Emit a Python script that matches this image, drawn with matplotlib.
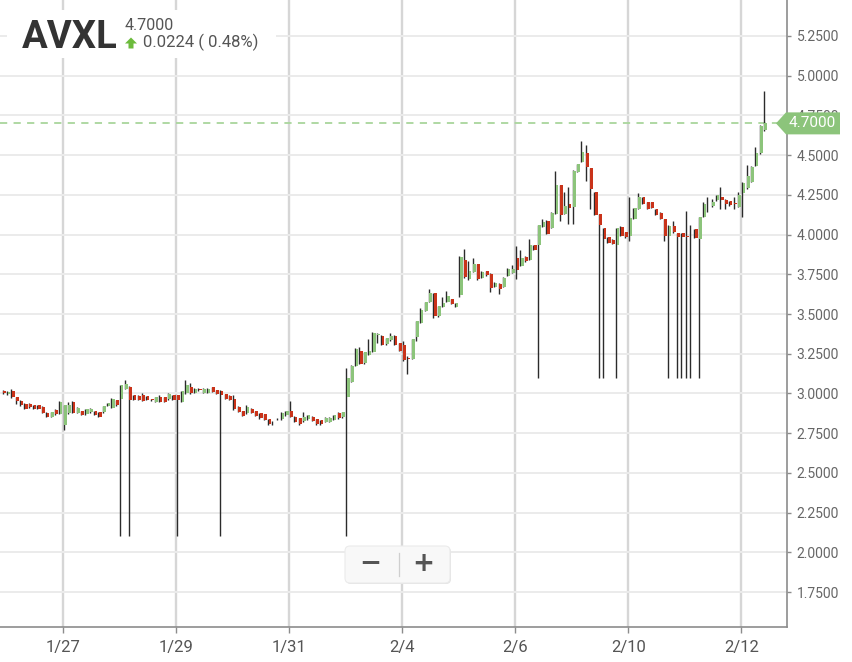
import matplotlib
matplotlib.use('Agg')
import matplotlib.pyplot as plt
from matplotlib.patches import Polygon, FancyBboxPatch, Rectangle
from matplotlib.transforms import IdentityTransform
from matplotlib.lines import Line2D
import numpy as np

plt.rcParams['font.family'] = ['Roboto', 'DejaVu Sans']

# ---------------- data (30-minute candles, 1/24 .. 2/12) ----------------
opens = [
    # 1/24
    3.015, 2.995, 3.015, 2.975, 2.955, 2.935, 2.935, 2.926, 2.926, 2.916, 2.878, 2.853, 2.895, 2.870,
    # 1/27
    2.800, 2.874, 2.943, 2.878, 2.890, 2.868, 2.880, 2.890, 2.880, 2.880, 2.920, 2.910, 2.958,
    # 1/28
    2.968, 3.027, 3.042, 2.990, 2.985, 2.990, 2.983, 2.962, 2.948, 2.975, 2.975, 2.962, 2.990,
    # 1/29
    2.990, 2.948, 3.000, 3.042, 3.004, 3.030, 3.004, 3.004, 3.038, 3.020, 3.017, 2.996, 2.983,
    # 1/30
    2.968, 2.916, 2.890, 2.874, 2.905, 2.890, 2.874, 2.870, 2.836, 2.815, 2.838, 2.836, 2.863,
    # 1/31
    2.890, 2.853, 2.843, 2.825, 2.836, 2.853, 2.836, 2.832, 2.820, 2.820, 2.832, 2.874, 2.853,
    # 2/3
    2.975, 3.075, 3.175, 3.270, 3.190, 3.244, 3.260, 3.370, 3.364, 3.310, 3.334, 3.364, 3.317,
    # 2/4
    3.307, 3.220, 3.217, 3.354, 3.444, 3.520, 3.575, 3.630, 3.486, 3.545, 3.577, 3.592, 3.545,
    # 2/5
    3.617, 3.840, 3.718, 3.765, 3.813, 3.729, 3.770, 3.754, 3.672, 3.690, 3.670, 3.740, 3.760,
    # 2/6
    3.855, 3.805, 3.860, 3.843, 3.935, 3.937, 4.050, 4.088, 4.042, 4.130, 4.313, 4.130, 4.190,
    # 2/7
    4.172, 4.393, 4.456, 4.513, 4.418, 4.267, 4.130, 4.042, 3.983, 3.967, 3.937, 4.050, 4.015,
    # 2/10
    3.994, 4.099, 4.162, 4.235, 4.204, 4.204, 4.162, 4.137, 4.099, 3.988, 4.057, 4.010, 4.010,
    # 2/11
    3.990, 3.990, 4.032, 3.973, 4.110, 4.200, 4.177, 4.215, 4.235, 4.219, 4.210, 4.200, 4.176,
    # 2/12
    4.260, 4.292, 4.333, 4.432, 4.512, 4.660,
]
highs = [
    3.020, 3.015, 3.028, 2.978, 2.958, 2.938, 2.937, 2.928, 2.928, 2.918, 2.880, 2.884, 2.902, 2.955,
    2.930, 2.945, 2.954, 2.912, 2.892, 2.902, 2.907, 2.892, 2.882, 2.922, 2.942, 2.970, 2.960,
    3.055, 3.085, 3.045, 2.992, 2.987, 3.000, 2.985, 2.965, 2.977, 2.990, 2.977, 3.000, 2.992,
    2.992, 3.017, 3.085, 3.063, 3.032, 3.034, 3.032, 3.032, 3.040, 3.022, 3.020, 2.998, 2.990,
    2.990, 2.918, 2.892, 2.926, 2.907, 2.892, 2.876, 2.872, 2.838, 2.828, 2.845, 2.885, 2.892,
    2.954, 2.855, 2.845, 2.880, 2.865, 2.855, 2.838, 2.834, 2.850, 2.850, 2.865, 2.885, 2.886,
    3.160, 3.180, 3.285, 3.290, 3.262, 3.340, 3.385, 3.380, 3.366, 3.352, 3.380, 3.366, 3.319,
    3.330, 3.235, 3.345, 3.457, 3.540, 3.577, 3.655, 3.632, 3.552, 3.607, 3.645, 3.594, 3.572,
    3.862, 3.908, 3.834, 3.850, 3.815, 3.769, 3.772, 3.756, 3.699, 3.692, 3.731, 3.788, 3.807,
    3.930, 3.904, 3.862, 3.969, 3.937, 4.063, 4.099, 4.090, 4.139, 4.403, 4.315, 4.267, 4.300,
    4.405, 4.447, 4.592, 4.561, 4.420, 4.269, 4.132, 4.044, 3.985, 3.969, 4.044, 4.052, 4.017,
    4.235, 4.170, 4.263, 4.237, 4.206, 4.206, 4.164, 4.139, 4.101, 4.059, 4.088, 4.012, 4.012,
    4.147, 4.060, 4.034, 4.112, 4.204, 4.235, 4.225, 4.248, 4.300, 4.221, 4.212, 4.235, 4.267,
    4.330, 4.438, 4.430, 4.553, 4.690, 4.906,
]
lows = [
    2.995, 2.990, 2.970, 2.935, 2.920, 2.900, 2.910, 2.900, 2.900, 2.874, 2.853, 2.850, 2.866, 2.868,
    2.770, 2.872, 2.876, 2.876, 2.862, 2.866, 2.878, 2.862, 2.852, 2.878, 2.918, 2.908, 2.924,
    2.100, 3.025, 2.100, 2.956, 2.956, 2.952, 2.956, 2.952, 2.946, 2.946, 2.946, 2.960, 2.956,
    2.100, 2.946, 2.998, 2.998, 3.002, 3.016, 3.002, 3.002, 3.008, 2.994, 2.100, 2.966, 2.956,
    2.898, 2.882, 2.858, 2.872, 2.876, 2.858, 2.841, 2.830, 2.804, 2.800, 2.835, 2.834, 2.861,
    2.851, 2.818, 2.800, 2.823, 2.834, 2.826, 2.804, 2.804, 2.818, 2.818, 2.830, 2.841, 2.843,
    2.100, 3.073, 3.173, 3.185, 3.188, 3.242, 3.258, 3.320, 3.305, 3.308, 3.332, 3.305, 3.268,
    3.206, 3.125, 3.215, 3.330, 3.442, 3.518, 3.573, 3.476, 3.484, 3.543, 3.575, 3.562, 3.543,
    3.610, 3.728, 3.716, 3.763, 3.716, 3.727, 3.742, 3.638, 3.670, 3.628, 3.668, 3.738, 3.758,
    3.718, 3.800, 3.830, 3.841, 3.904, 3.100, 4.048, 4.002, 4.040, 4.128, 4.088, 4.128, 4.067,
    4.067, 4.391, 4.454, 4.340, 4.162, 4.124, 3.100, 3.100, 3.944, 3.938, 3.100, 3.992, 3.981,
    3.960, 4.097, 4.160, 4.191, 4.160, 4.166, 4.124, 4.097, 3.960, 3.100, 4.013, 3.100, 3.100,
    3.100, 3.100, 3.978, 3.100, 4.108, 4.141, 4.175, 4.213, 4.162, 4.162, 4.181, 4.162, 4.174,
    4.113, 4.290, 4.331, 4.430, 4.510, 4.652,
]
closes = [
    3.000, 3.012, 2.975, 2.955, 2.925, 2.900, 2.912, 2.900, 2.900, 2.874, 2.853, 2.882, 2.868, 2.947,
    2.926, 2.926, 2.878, 2.910, 2.863, 2.900, 2.905, 2.863, 2.853, 2.920, 2.940, 2.968, 2.926,
    3.052, 3.060, 2.958, 2.958, 2.958, 2.954, 2.958, 2.958, 2.975, 2.948, 2.948, 2.994, 2.958,
    2.958, 3.015, 3.052, 3.000, 3.030, 3.020, 3.030, 3.030, 3.010, 2.996, 2.990, 2.968, 2.958,
    2.900, 2.884, 2.860, 2.912, 2.878, 2.860, 2.843, 2.832, 2.806, 2.812, 2.842, 2.874, 2.890,
    2.853, 2.820, 2.810, 2.853, 2.863, 2.828, 2.806, 2.806, 2.848, 2.848, 2.863, 2.843, 2.884,
    3.100, 3.175, 3.280, 3.187, 3.260, 3.270, 3.380, 3.375, 3.307, 3.350, 3.364, 3.307, 3.270,
    3.208, 3.215, 3.343, 3.455, 3.528, 3.575, 3.630, 3.486, 3.550, 3.570, 3.613, 3.564, 3.570,
    3.860, 3.730, 3.770, 3.813, 3.718, 3.767, 3.744, 3.666, 3.697, 3.660, 3.729, 3.786, 3.786,
    3.775, 3.850, 3.835, 3.935, 3.906, 4.061, 4.078, 4.004, 4.137, 4.313, 4.126, 4.180, 4.168,
    4.403, 4.445, 4.519, 4.425, 4.288, 4.126, 4.063, 3.973, 3.946, 3.940, 4.042, 3.994, 3.983,
    4.105, 4.168, 4.235, 4.193, 4.162, 4.168, 4.126, 4.099, 3.988, 4.057, 4.015, 3.983, 3.983,
    3.985, 3.992, 3.980, 4.110, 4.193, 4.196, 4.204, 4.246, 4.215, 4.193, 4.183, 4.195, 4.249,
    4.323, 4.369, 4.427, 4.512, 4.684, 4.700,
]

date_labels = ['1/27', '1/29', '1/31', '2/4', '2/6', '2/10', '2/12']
date_day_index = [1, 3, 5, 7, 9, 11, 13]          # trading-day index (1/24 = 0)
y_ticks = [1.75, 2.00, 2.25, 2.50, 2.75, 3.00, 3.25, 3.50, 3.75, 4.00, 4.25, 4.50, 4.75, 5.00, 5.25]
symbol = 'AVXL'
last_price = 4.7000
change = 0.0224
change_pct = 0.48

# ---------------- styling ----------------
GREEN = '#8cc47b'
RED = '#c9331a'
WICK = '#2b2b2b'
W, H = 853, 662
BARS_PER_DAY = 13
FIRST_DAY_BARS = 14

fig = plt.figure(figsize=(W / 100, H / 100), dpi=100)
ax = fig.add_axes([0, 35 / H, 787 / W, 627 / H])

o = np.array(opens); h = np.array(highs); l = np.array(lows); c = np.array(closes)
x = np.arange(len(o))
up = c >= o
colors = np.where(up, GREEN, RED)
bottoms = np.minimum(o, c)
heights = np.maximum(np.abs(c - o), 0.004)

ax.vlines(x - 0.3, l, h, color=WICK, lw=1.0, zorder=3)
ax.bar(x + 0.12, heights, bottom=bottoms, width=0.62, color=colors, linewidth=0, zorder=4)

ax.axhline(last_price, color='#a9d69c', lw=1.3, ls=(0, (4, 3.5)), zorder=2)

ax.set_xlim(-0.92, 179.99)
ax.set_ylim(1.5297, 5.4766)

ax.set_yticks(y_ticks)
ax.set_yticklabels([f'{v:.4f}' for v in y_ticks])
ax.yaxis.tick_right()
tick_pos = [FIRST_DAY_BARS + (d - 1) * BARS_PER_DAY - 0.5 for d in date_day_index]
ax.set_xticks(tick_pos)
ax.set_xticklabels(date_labels)

ax.grid(axis='y', color='#ebebeb', lw=1.4, zorder=0)
ax.grid(axis='x', color='#d6d6d6', lw=1.7, zorder=0)
ax.set_axisbelow(True)

for s in ['left', 'top']:
    ax.spines[s].set_visible(False)
for s in ['right', 'bottom']:
    ax.spines[s].set_color('#8c8c8c')
    ax.spines[s].set_linewidth(1.2)

ax.tick_params(axis='y', direction='out', length=3, width=1, color='#8c8c8c',
               labelsize=10, labelcolor='#666666', pad=4)
ax.tick_params(axis='x', direction='out', length=4.3, width=1, color='#8c8c8c',
               labelsize=12, labelcolor='#555555', pad=5)

fig.canvas.draw()

# ---------------- header box ----------------
def fy(py):
    return H - py

fig.add_artist(Rectangle((7, fy(58)), 269, 48, transform=IdentityTransform(),
                         facecolor='white', edgecolor='none', zorder=5))
fig.text(22 / W, 1 - 48 / H, symbol, ha='left', va='baseline', fontsize=27.5,
         fontweight='bold', color='#333333', zorder=6)
fig.text(125 / W, 1 - 29.5 / H, f'{last_price:.4f}', ha='left', va='baseline',
         fontsize=11.5, color='#555555', zorder=6)
arrow = Polygon([(131, fy(37.5)), (137, fy(43.5)), (133.5, fy(43.5)), (133.5, fy(48.5)),
                 (128.5, fy(48.5)), (128.5, fy(43.5)), (125, fy(43.5))], closed=True,
                transform=IdentityTransform(), facecolor='#6cbb3c', edgecolor='none', zorder=6)
fig.add_artist(arrow)
fig.text(143 / W, 1 - 47.5 / H, f'{change:.4f} ( {change_pct:.2f}%)', ha='left',
         va='baseline', fontsize=12, color='#555555', zorder=6)

# ---------------- last price tag ----------------
yt = ax.transData.transform((0, last_price))[1]
tag = Polygon([(776, yt), (786, yt + 11), (840, yt + 11), (840, yt - 11), (786, yt - 11)],
              closed=True, transform=IdentityTransform(), facecolor='#8cc47b',
              edgecolor='none', zorder=7)
fig.add_artist(tag)
fig.text(812 / W, yt / H, f'{last_price:.4f}', ha='center', va='center', fontsize=11,
         color='white', zorder=8)

# ---------------- zoom control ----------------
shadow = FancyBboxPatch((346, fy(584)), 105, 37, boxstyle='round,pad=0,rounding_size=5',
                        transform=IdentityTransform(), facecolor='#e2e2e2',
                        edgecolor='none', zorder=5)
fig.add_artist(shadow)
box = FancyBboxPatch((345, fy(583)), 105, 37, boxstyle='round,pad=0,rounding_size=5',
                     transform=IdentityTransform(), facecolor='#f8f8f8',
                     edgecolor='#ebebeb', lw=0.8, zorder=6)
fig.add_artist(box)
fig.add_artist(Line2D([399, 399], [fy(576), fy(553)], transform=IdentityTransform(),
                      color='#cfcfcf', lw=0.9, zorder=7))
fig.text(370 / W, 1 - 564 / H, '\u2212', ha='center', va='center', fontsize=19,
         fontweight='bold', color='#555555', family=['DejaVu Sans'], zorder=7)
fig.text(423 / W, 1 - 564 / H, '+', ha='center', va='center', fontsize=19,
         fontweight='bold', color='#555555', family=['DejaVu Sans'], zorder=7)

fig.savefig('out.png', dpi=100, facecolor='white')
